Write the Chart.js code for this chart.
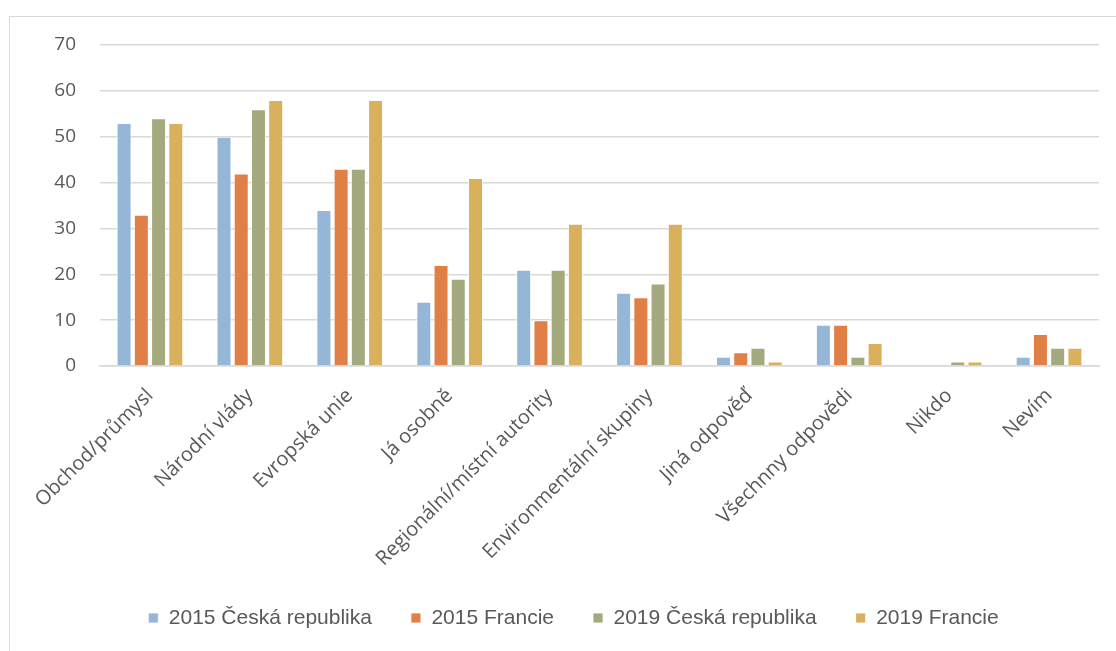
<!DOCTYPE html>
<html>
<head>
<meta charset="utf-8">
<script src="https://cdn.jsdelivr.net/npm/chart.js@4.4.0/dist/chart.umd.min.js"></script>
<style>
  html, body { margin: 0; padding: 0; background: #fff; overflow: hidden; }
  #frame { position: absolute; left: 9px; top: 16px; width: 1200px; height: 700px; border: 1.5px solid #d9d9d9; box-sizing: border-box; }
  #wrap { position: absolute; left: 0; top: 0; width: 1116px; height: 651px; }
</style>
</head>
<body>
<div id="frame"></div>
<div id="wrap"><canvas id="c" width="1116" height="651"></canvas></div>
<script>
const categories = ["Obchod/průmysl", "Národní vlády", "Evropská unie", "Já osobně", "Regionální/místní autority", "Environmentální skupiny", "Jiná odpověď", "Všechnny odpovědi", "Nikdo", "Nevím"];
const seriesNames = ["2015 Česká republika", "2015 Francie", "2019 Česká republika", "2019 Francie"];
const cz2015 = [53, 50, 34, 14, 21, 16, 2, 9, 0, 2];
const fr2015 = [33, 42, 43, 22, 10, 15, 3, 9, 0, 7];
const cz2019 = [54, 56, 43, 19, 21, 18, 4, 2, 1, 4];
const fr2019 = [53, 58, 58, 41, 31, 31, 1, 5, 1, 4];
const yTicks = [0, 10, 20, 30, 40, 50, 60, 70];
const colors = ["#95b6d6", "#e08046", "#a4aa7d", "#d9b15d"];

const allSeries = [cz2015, fr2015, cz2019, fr2019];
const ctx = document.getElementById('c');
new Chart(ctx, {
  type: 'bar',
  data: {
    labels: categories,
    datasets: allSeries.map((d, i) => ({
      label: seriesNames[i],
      data: d,
      backgroundColor: colors[i],
      borderColor: 'rgba(255,255,255,0.8)',
      borderWidth: 1,
      categoryPercentage: 0.69,
      barPercentage: 0.87
    }))
  },
  options: {
    responsive: false,
    animation: false,
    devicePixelRatio: 1,
    layout: { padding: { left: 48, right: 17, top: 45, bottom: 12.5 } },
    plugins: {
      tooltip: { enabled: false },
      legend: {
        position: 'bottom',
        labels: {
          boxWidth: 10, boxHeight: 10, padding: 39,
          color: '#595959',
          font: { family: 'Liberation Sans', size: 21 }
        }
      }
    },
    scales: {
      x: {
        grid: { display: false, drawTicks: false },
        border: { display: true, color: '#d9d9d9', width: 1.5 },
        ticks: {
          minRotation: 45, maxRotation: 45, autoSkip: false, padding: 18,
          color: '#595959',
          font: { family: 'Open Sans', size: 20 }
        },
        afterFit: (s) => { s.height = 202.5; }
      },
      y: {
        min: 0, max: 70,
        afterBuildTicks: (s) => { s.ticks = yTicks.map(v => ({ value: v })); },
        grid: { color: '#d9d9d9', lineWidth: 1.5, drawTicks: false },
        border: { display: false },
        ticks: {
          padding: 24,
          color: '#595959',
          font: { family: 'Open Sans', size: 19 }
        },
        afterFit: (s) => { s.width = 52; }
      }
    }
  }
});
</script>
</body>
</html>
